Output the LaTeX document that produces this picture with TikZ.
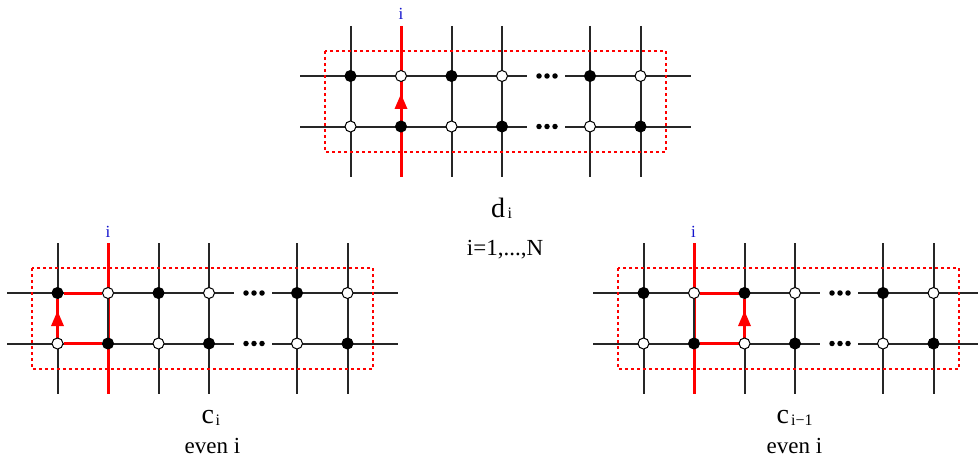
\documentclass[tikz,border=0pt]{standalone}
\usepackage{fontspec}
\setmainfont{Liberation Serif}
\usetikzlibrary{backgrounds,arrows.meta}
\definecolor{rd}{RGB}{255,0,0}
\definecolor{bl}{RGB}{20,20,205}
\tikzset{
  x=1pt,y=-1pt,
  blk/.style={circle,draw=black,fill=black,line width=1pt,inner sep=0pt,minimum size=11pt},
  wht/.style={circle,draw=black,fill=white,line width=1pt,inner sep=0pt,minimum size=11pt},
  ln/.style={line width=2pt,draw=black!85},
  redln/.style={line width=3pt,draw=rd},
  box/.style={draw=rd,line width=1.3pt,dash pattern=on 3pt off 3pt},
  dotn/.style={circle,fill=black,inner sep=0pt,minimum size=5.5pt},
  lab/.style={font=\fontsize{23}{25}\selectfont,inner sep=0pt,anchor=base},
  big/.style={font=\fontsize{28}{30}\selectfont,inner sep=0pt,anchor=base west},
  sub/.style={font=\fontsize{16}{18}\selectfont,inner sep=0pt,anchor=base west},
  ilab/.style={font=\fontsize{17}{18}\selectfont,text=bl,inner sep=0pt,anchor=base},
  upar/.style={draw=none,fill=rd}
}
% #1 prefix, #2 x offset, #3 y offset, #4 and #5 vertex styles, #6 red column, #7 extra background drawing
\newcommand{\latticefig}[7]{%
\begin{scope}[shift={(#2,#3)},name prefix=#1]
  \foreach \n/\xx/\ta/\tb in {1/350.5/#4/#5,2/401/#5/#4,3/451.5/#4/#5,4/502/#5/#4,5/590/#4/#5,6/640.5/#5/#4}{
    \node[\ta] (t\n) at (\xx,76) {};
    \node[\tb] (b\n) at (\xx,126.5) {};
    \coordinate (u\n) at (\xx,26);
    \coordinate (d\n) at (\xx,177);
  }
  \coordinate (la) at (300,76); \coordinate (lb) at (300,126.5);
  \coordinate (ma) at (527,76); \coordinate (mb) at (527,126.5);
  \coordinate (na) at (565,76); \coordinate (nb) at (565,126.5);
  \coordinate (ra) at (691,76); \coordinate (rb) at (691,126.5);
  \foreach \yy/\k in {76/a,126.5/b}{
    \node[dotn] (p\k1) at (539,\yy) {};
    \node[dotn] (p\k2) at (547,\yy) {};
    \node[dotn] (p\k3) at (555,\yy) {};
  }
  \begin{scope}[on background layer]
    \foreach \n in {1,...,6}{\draw[ln] (u\n) -- (d\n);}
    \draw[ln] (la) -- (ma); \draw[ln] (lb) -- (mb);
    \draw[ln] (na) -- (ra); \draw[ln] (nb) -- (rb);
    \draw[redln] (u#6) -- (d#6);
    #7
    \draw[box] (325,51) rectangle (666,152);
  \end{scope}
\end{scope}}
\begin{document}
\begin{tikzpicture}
\useasboundingbox (0,0) rectangle (978,460);
% top
\latticefig{A}{0}{0}{blk}{wht}{2}{
  \fill[upar] (401,94) -- (407.5,109) -- (394.5,109) -- cycle;
}
\node[ilab] (ilA) at (401,20) {i};
% left
\latticefig{B}{-293}{217}{blk}{wht}{2}{
  \draw[redln] (Bt1) -- (Bb1);
  \draw[redln] (Bt1) -- (Bt2);
  \draw[redln] (Bb1) -- (Bb2);
  \draw[ln] (Bt2) -- (Bb2);
  \fill[upar] (350.5,94) -- (357,109) -- (344,109) -- cycle;
}
\node[ilab] (ilB) at (108,237) {i};
% right
\latticefig{C}{293}{217}{blk}{wht}{2}{
  \draw[redln] (Ct3) -- (Cb3);
  \draw[redln] (Ct2) -- (Ct3);
  \draw[redln] (Cb2) -- (Cb3);
  \draw[ln] (Ct2) -- (Cb2);
  \fill[upar] (451.5,94) -- (458,109) -- (445,109) -- cycle;
}
\node[ilab] (ilC) at (693.5,237) {i};
% labels
\node[big] (dl) at (491,217) {d};
\node[sub] (ds) at (507.5,218.5) {i};
\node[lab] (nl) at (505,255) {i=1,...,N};
\node[big] (cl) at (201.5,423) {c};
\node[sub] (cs) at (215.5,425) {i};
\node[lab] (el) at (212.5,453) {even i};
\node[big] (cr) at (776.5,423) {c};
\node[sub] (crs) at (791,425) {i−1};
\node[lab] (er) at (794.5,453) {even i};
\end{tikzpicture}
\end{document}
